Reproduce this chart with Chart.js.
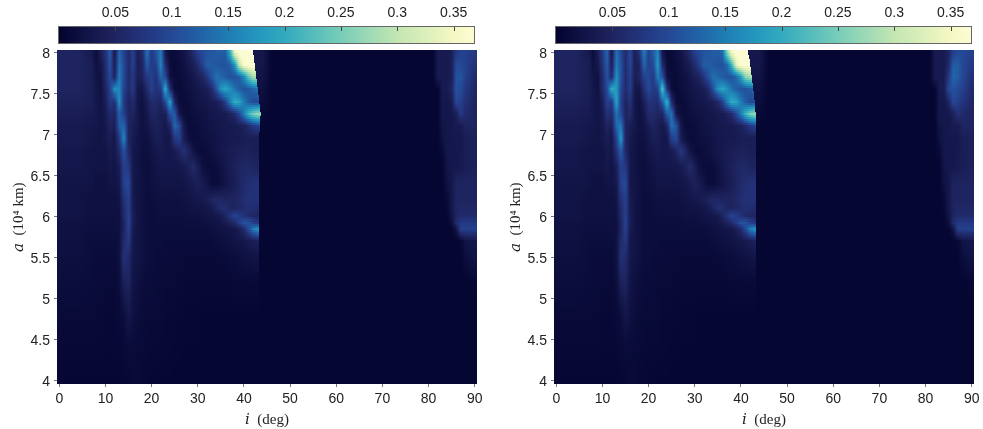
<!DOCTYPE html>
<html><head><meta charset="utf-8">
<script src="https://cdn.jsdelivr.net/npm/chart.js@4"></script>
<style>
html,body{margin:0;padding:0;background:#fff;width:983px;height:429px;overflow:hidden}
canvas{position:absolute}
</style></head><body>
<canvas id="cbA"></canvas><canvas id="mapA"></canvas>
<canvas id="cbB"></canvas><canvas id="mapB"></canvas>
<script>
const aRows=[8,7.85,7.7,7.55,7.4,7.25,7.1,6.95,6.8,6.6,6.4,6.2,6.1,6,5.925,5.85,5.7,5.5,5.2,4.8,4.4,4];
const iLeft=[0,4,7,8,9,10,11,12,13,14,15,16,17,18,19,20,21,22,23,24,25,26,27,28,29,30,31,32,33,34,35,36,37,38,39,40,41,42,43,44];
const iRight=[44,46,81,82,83,84,85,86,87,88,90];
const xTicks=[0,10,20,30,40,50,60,70,80,90];
const yTicks=[4,4.5,5,5.5,6,6.5,7,7.5,8];
const cbTicks=[0.05,0.1,0.15,0.2,0.25,0.3,0.35];
const cbStops=[0,0.025,0.05,0.075,0.1,0.125,0.15,0.175,0.2,0.25,0.3,0.35,0.368];
const cbColors=[[3,3,46],[17,20,70],[30,36,95],[35,52,125],[36,72,150],[33,97,166],[31,125,180],[35,150,190],[50,170,190],[120,205,185],[195,230,178],[245,248,195],[252,252,212]];
const edgeA=[42,42.3,42.7,43,43.3,43.6,43.5,43.3,43.3,43.3,43.3,43.3,43.3,43.3,43.3,43.3,43.3,43.3,43.3,43.3,43.3,43.3];
const edgeB=[41.6,42,42.4,42.7,43,43.2,43.2,43.2,43.2,43.2,43.2,43.2,43.2,43.2,43.2,43.2,43.2,43.2,43.2,43.2,43.2,43.2];
const leftA=[
[5,5,3.5, 1.5,4,7,12,3,13,9,6,9,4, 6,14,8,11,15,3,1,1.2,1.8,2.5, 4,6,9,10,11,11.5,12,12,12,20, 34,37,37,37,37,37,37],
[5,5,4, 2,3,6,11,4,14,10,6,9,4, 5,12,8,9,16,6,1.5,1,1.5,2, 3,4,6,9,12,12,11.5,11,11,12, 17,30,36,37,37,37,37],
[5,5,4, 2.5,2,6,10,5,15,10,6,8,4, 5,8,9,7,13,10,2,1.2,1.2,1.8, 2.2,3,4,5,7.5,11,14,13,12,11, 11,12,16,23,28,28,28],
[5,5,4, 3,2,5,9,17,16,9,6,8,3, 3,6,9,7,8,20,6,1.2,1,1.5, 2,2.5,3,3.5,4,6,11,17,19,17, 14,12,11,11.5,13,14,14],
[4.5,4.5,4, 3,2.5,4,8,7,17,8,5,6,3, 2,4,6,6,5,10,19,5,1.5,1.2, 1.5,2,2.5,2.8,3,3.5,4,5.5,9,15, 20,19,15,12,10,10,10],
[4,4,3.5, 3,2.5,3.5,6,5,12,9,5,5,3, 2,3,5,5,4,4,11,12,3,1.5, 1.2,1.8,2,2.3,2.5,3,3,3.5,3.5,4.5, 6,10,15,21,25,27,27],
[3.5,3.5,3, 3,2.5,3,5,4,12,13,5,4,3, 2,2.5,4,4.5,4,3,5,13,10,3, 1.3,1.3,1.5,2,2.3,2.5,3,3,3.3,3.5, 3.5,4,4.5,6,8,9,9],
[3.5,3.5,3, 2.5,2.5,3,4,3,8,16,5,3.5,2.5, 2,2,3,4,4,3,3,8,9,4, 2,1.3,1.3,1.8,2,2.2,2.5,3,3,3.3, 3.5,3.5,4,4,4,4,4],
[3,3,2.5, 2.5,2.5,2.5,3.5,3,6,11,6,3,2.5, 1.8,1.8,2.5,3,3.5,3,3,3.5,5,7, 5,2.5,1.5,1.2,1.5,2,2.5,3,3.3,3.8, 4,4.3,4.5,4.5,4.2,4,4],
[3,3,2.5, 2.5,2.5,2.5,3,2.5,4,9,8,3,2.5, 1.8,1.5,2,2.5,3,3,3,3,3,3.5, 4.5,6,4,2,1.5,1.3,1.5,2.2,3,3.8, 4.5,5,5.5,5.5,5,5,5],
[2.5,2.5,2.5, 2,2,2,2.5,2.5,3,9,10,3,2.5, 2,1.5,2,2,2.5,2.5,2.5,2.5,2.5,2.7, 3,3.5,4.5,3.5,2.5,1.5,1.3,1.8,2.5,3.3, 4,5,6,6.5,7,7,7],
[2.5,2.5,2, 2,2,2,2,2,2.5,7,9,3.5,2.5, 2,1.5,1.5,1.8,2,2,2,2,2,2.2, 2.5,2.8,3,3.3,4,5,5.5,5.5,5,5, 5,5.5,6.5,7,7,7,7],
[2.5,2.5,2, 2,2,2,2,2,2.2,6,9,3.5,2.5, 2,1.5,1.5,1.6,1.9,1.9,1.9,1.9,1.9,2, 2.2,2.4,2.5,2.7,3,3.5,5,6.5,6.5,5, 5,5.5,6,6.5,6.5,6,6],
[2.5,2.5,2, 2,2,2,2,2,2,6,9,4,2.5, 2,1.5,1.5,1.5,1.8,1.8,1.8,1.8,1.8,1.8, 2,2,2,2.2,2.5,2.7,3,3.5,5,7.5, 9.5,8.5,7,6,5.5,5,5],
[2.2,2.2,1.9, 1.9,1.9,1.9,1.9,1.9,2,5,9.5,3.8,2.5, 2,1.5,1.5,1.5,1.6,1.6,1.6,1.6,1.6,1.6, 1.7,1.7,1.7,1.8,2,2.2,2.5,2.8,3.5,4.5, 6,8.5,11,11,9,8,8],
[2,2,1.8, 1.8,1.8,1.8,1.8,1.8,2,5,9,3.5,2.5, 2,1.5,1.5,1.5,1.5,1.5,1.5,1.5,1.5,1.5, 1.5,1.5,1.5,1.5,1.5,1.8,2,2.3,2.5,2.8, 3,4,6,10,15,17,17],
[2,2,1.5, 1.5,1.5,1.5,1.5,1.5,2,6,8,3,2.5, 2,1.5,1.5,1.5,1.5,1.2,1.2,1.2,1.2,1.2, 1.2,1.2,1.2,1.2,1.2,1.4,1.5,1.8,2,2.2, 2.5,2.7,3,3.5,4,4.5,4.5],
[1.8,1.8,1.5, 1.2,1.2,1.2,1.2,1.2,2,7,6,3,2.5, 2,1.5,1.5,1.2,1.2,1.2,1,1,1,1, 1,1,1,1,1,1,1,1.2,1.2,1.4, 1.5,1.7,2,2.2,2.5,2.5,2.5],
[1.5,1.5,1.2, 1.2,1.2,1,1,1,1.5,4.5,5,2.5,2, 1.5,1.2,1.2,1.2,1,1,1,1,1,.9, .8,.8,.8,.8,.8,.8,.8,.8,.8,.9, 1,1,1,1,1,1,1],
[1,1,1, 1,1,.8,.8,.8,1,1.5,3,2,1.5, 1.2,1,1,1,1,.8,.8,.8,.7,.7, .6,.6,.6,.5,.5,.5,.5,.5,.5,.5, .5,.5,.5,.5,.5,.5,.5],
[.8,.8,.8, .8,.8,.7,.7,.7,.8,1,1.2,1.2,1, 1,.9,.8,.8,.8,.7,.7,.6,.6,.5, .5,.5,.5,.5,.5,.4,.4,.4,.4,.4, .4,.4,.4,.4,.4,.4,.4],
[.5,.5,.5, .5,.5,.5,.5,.5,.5,.6,.7,1,1, .8,.7,.6,.6,.5,.5,.5,.4,.4,.4, .4,.4,.4,.4,.4,.4,.4,.4,.4,.4, .4,.4,.4,.4,.4,.4,.4]];
const topB=[
[5,5,3.5, 1.5,4,8,13,3,14,10,6,10,4, 7,15,9,12,16,3,1,1.2,1.8,2.5, 4,6,9,10,11,11.5,12,12,13,26, 35,37,37,37,37,37,37],
[5,5,4, 2,3,7,12,4,15,11,6,10,4, 5,13,9,10,18,6,1.5,1,1.5,2, 3,4,6,9,12,12,11.5,11,11,13, 21,33,37,37,37,37,37],
[5,5,4, 2.5,2,6,11,6,17,11,6,9,4, 5,9,10,8,15,11,2,1.2,1.2,1.8, 2.2,3,4,5,7.5,11,14,13,12,11, 11,13,18,26,28,28,28],
[5,5,4, 3,2,6,10,20,18,10,6,9,3, 3,7,10,8,9,23,7,1.2,1,1.5, 2,2.5,3,3.5,4,6,11,17,19,17, 14,12,11,11,12,13,13],
[4.5,4.5,4, 3,2.5,4,9,8,19,9,5,7,3, 2,4,7,7,6,12,21,6,1.5,1.2, 1.5,2,2.5,2.8,3,3.5,4,5.5,9,15, 20,19,15,12,10,10,10],
[4,4,3.5, 3,2.5,3.5,7,6,14,10,5,6,3, 2,3,6,6,5,5,12,14,3,1.5, 1.2,1.8,2,2.3,2.5,3,3,3.5,3.5,4.5, 6,10,15,21,25,27,27],
[3.5,3.5,3, 3,2.5,3,5,4,13,15,5,4,3, 2,2.5,4,5,4,3,5,14,11,3, 1.3,1.3,1.5,2,2.3,2.5,3,3,3.3,3.5, 3.5,4,4.5,6,8,9,9],
[3.5,3.5,3, 2.5,2.5,3,4,3,9,18,5,3.5,2.5, 2,2,3,4,4,3,3,9,10,4, 2,1.3,1.3,1.8,2,2.2,2.5,3,3,3.3, 3.5,3.5,4,4,4,4,4],
[3,3,2.5, 2.5,2.5,2.5,3.5,3,7,12,6,3,2.5, 1.8,1.8,2.5,3,3.5,3,3,3.5,5,8, 5.5,2.5,1.5,1.2,1.5,2,2.5,3,3.3,3.8, 4,4.3,4.5,4.5,4.2,4,4]];
const leftB=topB.concat(leftA.slice(9));
const rightA=[
[3,.4,.4,3.5,3.5,3.5,4,8,9,9,8],
[3,.4,.4,3.5,3.5,3.5,4,10,10,9,7],
[2.5,.4,.4,3.5,3.5,3.5,4,11,11,9,6],
[2,.4,.4,.5,3.5,3.5,5,11,10,8,5.5],
[1.5,.4,.4,.5,3,3,3.5,10,9,7,5],
[1,.4,.4,.5,3,3,3,4,8,6,5],
[.5,.4,.4,.4,2.5,3,3,3.5,3.5,5,5],
[.4,.4,.4,.4,2,3,3,3.2,3.2,4,4.5],
[.4,.4,.4,.4,1,3,3,3,3.2,4,4.5],
[.4,.4,.4,.4,.5,2.5,3,3,3.5,4,4.5],
[.4,.4,.4,.4,.4,2,3,5,5,5,5],
[.4,.4,.4,.4,.4,1,3,5,5,5,5],
[.4,.4,.4,.4,.4,.8,2.8,5,5.5,5.5,5.5],
[.4,.4,.4,.4,.4,.5,2.5,5,6,6,6],
[.4,.4,.4,.4,.4,.5,1.5,6,8,8,8],
[.4,.4,.4,.4,.4,.5,.5,2.5,9,9,9],
[.4,.4,.4,.4,.4,.4,.4,.4,.8,2.5,3],
[.4,.4,.4,.4,.4,.4,.4,.4,.4,1.5,2.5],
[.4,.4,.4,.4,.4,.4,.4,.4,.4,.4,.6],
[.4,.4,.4,.4,.4,.4,.4,.4,.4,.4,.4],
[.4,.4,.4,.4,.4,.4,.4,.4,.4,.4,.4],
[.4,.4,.4,.4,.4,.4,.4,.4,.4,.4,.4]];
const rightTopB=[
[3,.4,.4,3.5,3.5,3.5,5,9,10,10,9],
[3,.4,.4,3.5,3.5,3.5,6,12,12,10,8],
[2.5,.4,.4,3.5,3.5,3.5,8,13,12,10,7],
[2,.4,.4,.5,3.5,4,10,11,10,9,6],
[1.5,.4,.4,.5,3,3,5,10,9,7.5,5.5],
[1,.4,.4,.5,3,3,3,4.5,7,6,5]];
const rightB=rightTopB.concat(rightA.slice(6));
const xTitle='\u{1D456}  (deg)';
const yTitle='\u{1D44E}  (10\u2074 km)';
const sans='"Liberation Sans", Arial, sans-serif';
const serif='"Liberation Serif","DejaVu Serif",serif';
const ink='#222';

function colorOf(v){
  let k=0;while(k<cbStops.length-2&&v>cbStops[k+1])k++;
  const t=Math.max(0,Math.min(1,(v-cbStops[k])/(cbStops[k+1]-cbStops[k])));
  return cbColors[k].map((c,j)=>c+(cbColors[k+1][j]-c)*t);
}
function bracket(arr,x,desc){
  let k=0;
  if(desc){while(k<arr.length-2&&x<arr[k+1])k++;}
  else{while(k<arr.length-2&&x>arr[k+1])k++;}
  let t=(x-arr[k])/(arr[k+1]-arr[k]);
  return [k,Math.max(0,Math.min(1,t))];
}
function sample(grid,cols,i,a){
  const [r,tr]=bracket(aRows,a,true),[c,tc]=bracket(cols,i,false);
  const v0=grid[r][c]+(grid[r][c+1]-grid[r][c])*tc;
  const v1=grid[r+1][c]+(grid[r+1][c+1]-grid[r+1][c])*tc;
  return (v0+(v1-v0)*tr)/100;
}
const heatPlugin={id:'heat',beforeDatasetsDraw(chart,args,opts){
  const {ctx,chartArea:ca,scales:{x,y}}=chart;
  const W=Math.round(ca.right-ca.left),H=Math.round(ca.bottom-ca.top);
  const img=ctx.createImageData(W,H);
  for(let py=0;py<H;py++){
    const aRaw=y.getValueForPixel(ca.top+py+.5);
    const a=Math.round(aRaw/0.025)*0.025;
    const aEdge=Math.round(aRaw/0.05)*0.05;
    const [r,tr]=bracket(aRows,aEdge,true);
    const edge=opts.edge[r]+(opts.edge[r+1]-opts.edge[r])*tr;
    for(let px=0;px<W;px++){
      const i=x.getValueForPixel(ca.left+px+.5);
      const v=i<edge?sample(opts.left,iLeft,Math.min(i,44),a):sample(opts.right,iRight,Math.max(i,44),a);
      const c=colorOf(v),o=(py*W+px)*4;
      img.data[o]=c[0];img.data[o+1]=c[1];img.data[o+2]=c[2];img.data[o+3]=255;
    }
  }
  ctx.putImageData(img,Math.round(ca.left),Math.round(ca.top));
}};
function nodes(left,right){
  const pts=[];
  aRows.forEach((a,r)=>{
    iLeft.forEach((i,c)=>pts.push({x:i,y:a,v:left[r][c]/100}));
    iRight.forEach((i,c)=>pts.push({x:i,y:a,v:right[r][c]/100}));
  });
  return pts;
}
function place(id,l,t,w,h){const e=document.getElementById(id);e.width=w;e.height=h;e.style.left=l+'px';e.style.top=t+'px';e.style.width=w+'px';e.style.height=h+'px';return e;}
function makeMap(id,left0,left,right,edge){
  const W=490,T=38,H=391;
  const cv=place(id,left0,T,W,H);
  new Chart(cv,{type:'scatter',plugins:[heatPlugin],
    data:{datasets:[{data:nodes(left,right),pointRadius:0,pointHoverRadius:0}]},
    options:{responsive:false,animation:false,events:[],
      layout:{padding:{left:0,right:W-477,top:5,bottom:0}},
      plugins:{legend:{display:false},tooltip:{enabled:false},heat:{left:left,right:right,edge:edge}},
      scales:{
        x:{type:'linear',min:-0.5,max:90.5,afterBuildTicks(s){s.ticks=xTicks.map(v=>({value:v}));},
          afterFit(s){s.height=45;},
          grid:{drawOnChartArea:false,drawTicks:true,tickLength:3,color:'#777'},border:{display:false},
          ticks:{color:ink,font:{family:sans,size:14},padding:4,maxRotation:0,autoSkip:false,callback:v=>String(v)},
          title:{display:true,text:xTitle,color:ink,font:{family:serif,size:15},padding:{top:2,bottom:0}}},
        y:{type:'linear',min:3.96,max:8.03,afterBuildTicks(s){s.ticks=yTicks.map(v=>({value:v}));},
          afterFit(s){s.width=57;},
          grid:{drawOnChartArea:false,drawTicks:true,tickLength:3,color:'#777'},border:{display:false},
          ticks:{color:ink,font:{family:sans,size:14},padding:4,labelOffset:1.5,callback:v=>String(v)},
          title:{display:true,text:yTitle,color:ink,font:{family:serif,size:15},padding:{top:10,bottom:0}}}
      }}});
}
function makeBar(id,left0){
  const W=490,H=45;
  const cv=place(id,left0,0,W,H);
  const barPlugin={id:'bar',beforeDatasetsDraw(chart){
    const {ctx,chartArea:ca,scales:{x}}=chart;
    const g=ctx.createLinearGradient(ca.left,0,ca.right,0);
    cbStops.forEach((s,k)=>{const c=cbColors[k];g.addColorStop(Math.min(1,(x.getPixelForValue(s)-ca.left)/(ca.right-ca.left)),`rgb(${c[0]},${c[1]},${c[2]})`);});
    ctx.fillStyle=g;ctx.fillRect(ca.left,ca.top,ca.right-ca.left,ca.bottom-ca.top);
    ctx.strokeStyle='#666';ctx.lineWidth=1;ctx.strokeRect(ca.left-.5,ca.top-.5,ca.right-ca.left+1,ca.bottom-ca.top+1);
    ctx.strokeStyle='#444';
    cbTicks.forEach(t=>{const p=Math.round(x.getPixelForValue(t))+.5;ctx.beginPath();ctx.moveTo(p,ca.top);ctx.lineTo(p,ca.top+4);ctx.stroke();});
  }};
  new Chart(cv,{type:'scatter',plugins:[barPlugin],
    data:{datasets:[{data:cbStops.map(s=>({x:s,y:0})),pointRadius:0}]},
    options:{responsive:false,animation:false,events:[],
      layout:{padding:{left:59,right:W-474,top:0,bottom:2}},
      plugins:{legend:{display:false},tooltip:{enabled:false}},
      scales:{
        x:{type:'linear',position:'top',min:0,max:0.368,afterBuildTicks(s){s.ticks=cbTicks.map(v=>({value:v}));},
          afterFit(s){s.height=27;},
          grid:{drawOnChartArea:false,drawTicks:false},border:{display:false},
          ticks:{color:ink,font:{family:sans,size:14},padding:5,maxRotation:0,autoSkip:false,callback:v=>String(v)}},
        y:{display:false,min:-1,max:1}
      }}});
}
makeBar('cbA',0);makeMap('mapA',0,leftA,rightA,edgeA);
makeBar('cbB',497);makeMap('mapB',497,leftB,rightB,edgeB);
</script></body></html>
